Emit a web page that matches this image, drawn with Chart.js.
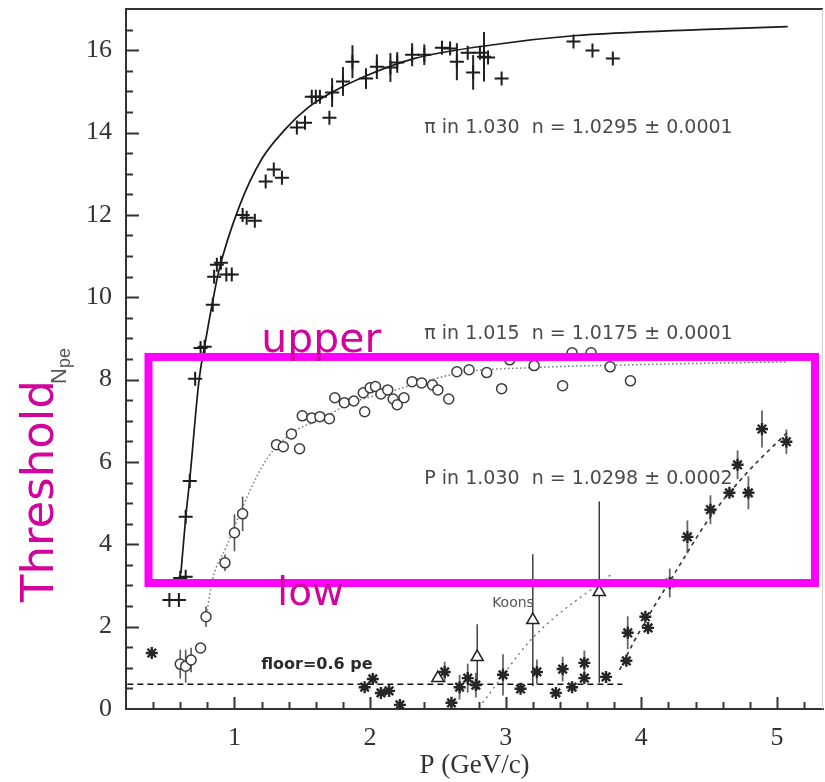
<!DOCTYPE html>
<html>
<head>
<meta charset="utf-8">
<script src="https://cdn.jsdelivr.net/npm/chart.js@4.4.0/dist/chart.umd.min.js"></script>
<style>
  html, body { margin: 0; padding: 0; background: #fff; }
</style>
</head>
<body>
<canvas id="npeChart" width="825" height="782"></canvas>
<script>
// pions, n = 1.030 aerogel (crosses)
const pi30P   = [0.52, 0.59, 0.60, 0.64, 0.64, 0.67, 0.71, 0.75, 0.78, 0.84, 0.85, 0.87, 0.90, 0.94, 0.98, 1.06, 1.09, 1.15, 1.23, 1.29, 1.35, 1.46, 1.52, 1.57, 1.60, 1.63, 1.70, 1.72, 1.80, 1.87, 1.97, 2.05, 2.15, 2.20, 2.31, 2.40, 2.53, 2.59, 2.64, 2.72, 2.76, 2.81, 2.84, 2.87, 2.97, 3.50, 3.64, 3.79];
const pi30Npe = [2.65, 2.65, 3.18, 3.21, 4.67, 5.54, 8.02, 8.77, 8.80, 9.82, 10.50, 10.79, 10.84, 10.55, 10.55, 12.00, 11.93, 11.86, 12.81, 13.10, 12.90, 14.12, 14.24, 14.87, 14.87, 14.87, 14.36, 14.97, 15.24, 15.72, 15.31, 15.60, 15.58, 15.70, 15.89, 15.89, 16.06, 16.04, 15.72, 15.94, 15.46, 15.94, 15.84, 15.82, 15.31, 16.21, 15.99, 15.80];
const pi30Err = [0, 0, 0, 0, 0, 0, 0, 0, 0, 0, 0, 0, 0, 0, 0, 0, 0, 0, 0, 0, 0, 0, 0, 0, 0, 0, 0, 0.35, 0.35, 0.4, 0.25, 0.3, 0.35, 0.25, 0.28, 0.25, 0, 0, 0.45, 0, 0.42, 0, 0.6, 0, 0, 0, 0, 0];

// pions, n = 1.015 aerogel (circles)
const pi15P   = [0.60, 0.64, 0.68, 0.75, 0.79, 0.93, 1.00, 1.06, 1.31, 1.36, 1.42, 1.48, 1.50, 1.57, 1.63, 1.70, 1.74, 1.81, 1.88, 1.95, 1.96, 2.00, 2.04, 2.08, 2.13, 2.17, 2.20, 2.25, 2.31, 2.38, 2.46, 2.50, 2.58, 2.64, 2.73, 2.86, 2.97, 3.03, 3.21, 3.42, 3.49, 3.63, 3.77, 3.92];
const pi15Npe = [1.09, 1.04, 1.19, 1.48, 2.24, 3.55, 4.28, 4.74, 6.42, 6.37, 6.68, 6.32, 7.12, 7.07, 7.10, 7.05, 7.56, 7.44, 7.48, 7.68, 7.22, 7.80, 7.83, 7.65, 7.75, 7.53, 7.39, 7.56, 7.95, 7.92, 7.87, 7.75, 7.53, 8.19, 8.24, 8.17, 7.78, 8.48, 8.34, 7.85, 8.65, 8.65, 8.31, 7.97];
const pi15Err = [0.35, 0.4, 0.3, 0, 0.25, 0.2, 0.45, 0.42, 0, 0, 0, 0, 0, 0, 0, 0, 0, 0, 0, 0, 0, 0, 0, 0, 0, 0, 0, 0, 0, 0, 0, 0, 0, 0, 0, 0, 0, 0, 0, 0, 0, 0, 0, 0];

// protons, n = 1.030 aerogel (stars)
const protP   = [0.39, 1.96, 2.02, 2.08, 2.14, 2.22, 2.55, 2.60, 2.66, 2.72, 2.78, 2.98, 3.11, 3.23, 3.37, 3.42, 3.49, 3.58, 3.58, 3.74, 3.89, 3.90, 4.03, 4.05, 4.21, 4.34, 4.51, 4.65, 4.71, 4.79, 4.89, 5.07];
const protNpe = [1.36, 0.53, 0.73, 0.39, 0.44, 0.10, 0.90, 0.15, 0.53, 0.75, 0.58, 0.83, 0.49, 0.90, 0.39, 0.97, 0.53, 1.12, 0.75, 0.78, 1.17, 1.85, 2.24, 1.97, 3.06, 4.18, 4.84, 5.25, 5.93, 5.25, 6.80, 6.49];
const protErr = [0, 0, 0, 0, 0, 0, 0.25, 0, 0.3, 0.35, 0.3, 0.5, 0, 0.3, 0, 0.3, 0, 0.3, 0, 0, 0, 0.4, 0, 0, 0.35, 0.4, 0.35, 0, 0.35, 0.4, 0.45, 0.3];

// Koons points (triangles)
const koonsP   = [2.50, 2.79, 3.20, 3.69];
const koonsNpe = [0.75, 1.26, 2.16, 2.84];
const koonsErr = [0, 0.8, 1.6, 2.2];

// fitted curves
const pi30FitP   = [0.605, 0.641, 0.67, 0.739, 0.784, 0.837, 0.887, 1.035, 1.2, 1.38, 1.54, 1.72, 1.95, 2.33, 2.95, 3.5, 4.43, 5.08];
const pi30FitNpe = [3.30, 4.67, 5.57, 8.0, 8.89, 9.86, 10.67, 12.2, 13.35, 14.1, 14.6, 14.98, 15.35, 15.8, 16.15, 16.35, 16.5, 16.57];
const pi15FitP   = [0.79, 0.837, 0.94, 1.086, 1.234, 1.426, 1.625, 1.869, 2.12, 2.364, 2.71, 3.2, 3.94, 5.074];
const pi15FitNpe = [2.2, 3.13, 3.94, 5.1, 6.05, 6.71, 7.02, 7.44, 7.68, 7.92, 8.19, 8.29, 8.36, 8.43];
const protFitP   = [3.84, 3.94, 4.08, 4.23, 4.51, 4.78, 5.074];
const protFitNpe = [0.95, 1.60, 2.41, 3.21, 4.67, 5.74, 6.71];
const koonsFitP   = [2.83, 3.2, 3.79];
const koonsFitNpe = [0.15, 1.73, 3.30];
const floorP   = [0.21, 3.86];
const floorNpe = [0.6, 0.6];

// axes
const pTicks   = [1, 2, 3, 4, 5];
const npeTicks = [0, 2, 4, 6, 8, 10, 12, 14, 16];

// annotation texts
const fitLabels  = ['π in 1.030  n = 1.0295 ± 0.0001', 'π in 1.015  n = 1.0175 ± 0.0001', 'P in 1.030  n = 1.0298 ± 0.0002'];
const fitLabelP   = [2.40, 2.40, 2.40];
const fitLabelNpe = [14.0, 8.99, 5.47];

// threshold band (low / upper)
const bandP0 = 0.366, bandP1 = 5.281;
const bandLow = 3.06, bandUpper = 8.55;

const xy = (xs, ys) => xs.map((v, i) => ({x: v, y: ys[i]}));

const errorSets = [
    {p: pi30P, npe: pi30Npe, err: pi30Err, color: '#222', width: 2},
    {p: pi15P, npe: pi15Npe, err: pi15Err, color: '#555', width: 1.6},
    {p: protP, npe: protNpe, err: protErr, color: '#666', width: 1.8},
    {p: koonsP, npe: koonsNpe, err: koonsErr, color: '#333', width: 1.4}
];

const overlay = {
    id: 'overlay',
    beforeDatasetsDraw(chart) {
        const {ctx, scales: {x, y}} = chart;
        ctx.save();
        errorSets.forEach(s => {
            ctx.strokeStyle = s.color;
            ctx.lineWidth = s.width;
            s.p.forEach((p, i) => {
                const e = s.err[i];
                if (!e) return;
                const px = x.getPixelForValue(p);
                ctx.beginPath();
                ctx.moveTo(px, y.getPixelForValue(s.npe[i] - e));
                ctx.lineTo(px, y.getPixelForValue(s.npe[i] + e));
                ctx.stroke();
            });
        });
        ctx.restore();
    },
    afterDraw(chart) {
        const {ctx, chartArea: a, scales: {x, y}} = chart;
        ctx.save();

        // top and right edges of the frame
        ctx.strokeStyle = '#333';
        ctx.lineWidth = 2;
        ctx.beginPath();
        ctx.moveTo(a.left, a.top);
        ctx.lineTo(a.right, a.top);
        ctx.stroke();
        ctx.strokeStyle = '#d4d4d4';
        ctx.lineWidth = 1;
        ctx.beginPath();
        ctx.moveTo(a.right - 0.5, a.top);
        ctx.lineTo(a.right - 0.5, a.bottom);
        ctx.stroke();

        // inward tick marks
        ctx.strokeStyle = '#333';
        ctx.lineWidth = 2;
        for (let v = 0.4; v < x.max; v += 0.2) {
            const major = Math.abs(v - Math.round(v)) < 0.01;
            const px = Math.round(x.getPixelForValue(v)) + 0.5;
            ctx.beginPath();
            ctx.moveTo(px, a.bottom);
            ctx.lineTo(px, a.bottom - (major ? 12 : 7));
            ctx.stroke();
        }
        for (let v = 0.5; v < y.max; v += 0.5) {
            const major = Math.abs(v / 2 - Math.round(v / 2)) < 0.01;
            const py = Math.round(y.getPixelForValue(v)) + 0.5;
            ctx.beginPath();
            ctx.moveTo(a.left, py);
            ctx.lineTo(a.left + (major ? 13 : 7), py);
            ctx.stroke();
        }

        // axis titles
        ctx.fillStyle = '#333';
        ctx.font = '27px "Liberation Serif"';
        ctx.textAlign = 'center';
        ctx.textBaseline = 'middle';
        ctx.fillText('P (GeV/c)', (a.left + a.right) / 2, 766);

        ctx.save();
        ctx.translate(66, 384);
        ctx.rotate(-Math.PI / 2);
        ctx.textAlign = 'left';
        ctx.textBaseline = 'alphabetic';
        ctx.fillStyle = '#555';
        ctx.font = '22px "Liberation Sans"';
        ctx.fillText('N', 0, 0);
        const nw = ctx.measureText('N').width;
        ctx.font = '18px "Liberation Sans"';
        ctx.fillText('pe', nw, 4);
        ctx.restore();

        // fit results
        ctx.fillStyle = '#4a4a4a';
        ctx.font = '19px "DejaVu Sans"';
        ctx.textAlign = 'left';
        ctx.textBaseline = 'alphabetic';
        fitLabels.forEach((t, i) => {
            ctx.fillText(t, x.getPixelForValue(fitLabelP[i]), y.getPixelForValue(fitLabelNpe[i]));
        });
        ctx.font = '14px "DejaVu Sans"';
        ctx.fillStyle = '#555';
        ctx.fillText('Koons', x.getPixelForValue(2.90), y.getPixelForValue(2.48));
        ctx.font = 'bold 16px "DejaVu Sans"';
        ctx.fillStyle = '#2a2a2a';
        ctx.fillText('floor=0.6 pe', x.getPixelForValue(1.197), y.getPixelForValue(0.97));

        // threshold band
        const bx0 = x.getPixelForValue(bandP0), bx1 = x.getPixelForValue(bandP1);
        const by0 = y.getPixelForValue(bandUpper), by1 = y.getPixelForValue(bandLow);
        ctx.strokeStyle = '#ff00ff';
        ctx.lineWidth = 8;
        ctx.strokeRect(bx0, by0, bx1 - bx0, by1 - by0);

        ctx.fillStyle = '#d2049b';
        ctx.font = '41px "Comic Sans MS", "DejaVu Sans"';
        ctx.fillText('upper', x.getPixelForValue(1.197), by0 - 5);
        ctx.font = '39px "Comic Sans MS", "DejaVu Sans"';
        ctx.fillText('low', x.getPixelForValue(1.316), by1 + 22);

        ctx.save();
        ctx.translate(53, 602);
        ctx.rotate(-Math.PI / 2);
        ctx.font = '45px "Comic Sans MS", "DejaVu Sans"';
        ctx.fillText('Threshold', 0, 0);
        ctx.restore();

        ctx.restore();
    }
};

const serifTicks = {family: 'Liberation Serif', size: 26};

// drop the half-label margins Chart.js keeps at the axis ends
const noEndPadding = axis => {
    axis.paddingTop = 0;
    axis.paddingBottom = 0;
    axis.paddingLeft = 0;
    axis.paddingRight = 0;
};

const npeChart = new Chart(document.getElementById('npeChart'), {
    type: 'scatter',
    data: {
        datasets: [
            {
                label: 'π in 1.030',
                data: xy(pi30P, pi30Npe),
                pointStyle: 'cross',
                pointRadius: 7,
                borderColor: '#1c1c1c',
                borderWidth: 2
            },
            {
                label: 'π in 1.015',
                data: xy(pi15P, pi15Npe),
                pointStyle: 'circle',
                pointRadius: 5,
                borderColor: '#3c3c3c',
                backgroundColor: '#fff',
                borderWidth: 1.5
            },
            {
                label: 'P in 1.030',
                data: xy(protP, protNpe),
                pointStyle: 'star',
                pointRadius: 6,
                borderColor: '#262626',
                borderWidth: 2.4
            },
            {
                label: 'Koons',
                data: xy(koonsP, koonsNpe),
                pointStyle: 'triangle',
                pointRadius: 7,
                borderColor: '#222',
                backgroundColor: '#fff',
                borderWidth: 1.5
            },
            {
                type: 'line',
                label: 'fit π 1.030',
                data: xy(pi30FitP, pi30FitNpe),
                showLine: true,
                borderColor: '#1a1a1a',
                borderWidth: 1.7,
                pointRadius: 0,
                cubicInterpolationMode: 'monotone'
            },
            {
                type: 'line',
                label: 'fit π 1.015',
                data: xy(pi15FitP, pi15FitNpe),
                showLine: true,
                borderColor: '#777',
                borderWidth: 1.5,
                borderDash: [1.5, 2.5],
                pointRadius: 0,
                cubicInterpolationMode: 'monotone'
            },
            {
                type: 'line',
                label: 'fit P 1.030',
                data: xy(protFitP, protFitNpe),
                showLine: true,
                borderColor: '#333',
                borderWidth: 1.6,
                borderDash: [4, 4],
                pointRadius: 0,
                cubicInterpolationMode: 'monotone'
            },
            {
                type: 'line',
                label: 'fit Koons',
                data: xy(koonsFitP, koonsFitNpe),
                showLine: true,
                borderColor: '#777',
                borderWidth: 1.4,
                borderDash: [2, 4],
                pointRadius: 0,
                cubicInterpolationMode: 'monotone'
            },
            {
                type: 'line',
                label: 'floor',
                data: xy(floorP, floorNpe),
                showLine: true,
                borderColor: '#111',
                borderWidth: 1.6,
                borderDash: [6, 4],
                pointRadius: 0
            }
        ]
    },
    options: {
        responsive: false,
        animation: false,
        layout: {autoPadding: false, padding: {top: 9, right: 2, left: 0, bottom: 0}},
        plugins: {
            legend: {display: false},
            tooltip: {enabled: false}
        },
        scales: {
            x: {
                type: 'linear',
                min: 0.2,
                max: 5.34,
                afterBuildTicks: axis => { axis.ticks = pTicks.map(v => ({value: v})); },
                afterFit: axis => { axis.height = 73; noEndPadding(axis); },
                grid: {display: false, drawTicks: false},
                border: {display: true, color: '#333', width: 2},
                ticks: {font: serifTicks, color: '#333', padding: 14, maxRotation: 0, autoSkip: false}
            },
            y: {
                type: 'linear',
                min: 0,
                max: 17,
                afterBuildTicks: axis => { axis.ticks = npeTicks.map(v => ({value: v})); },
                afterFit: axis => { axis.width = 126; noEndPadding(axis); },
                grid: {display: false, drawTicks: false},
                border: {display: true, color: '#333', width: 2},
                ticks: {font: serifTicks, color: '#333', padding: 14, autoSkip: false}
            }
        }
    },
    plugins: [overlay]
});
</script>
</body>
</html>
